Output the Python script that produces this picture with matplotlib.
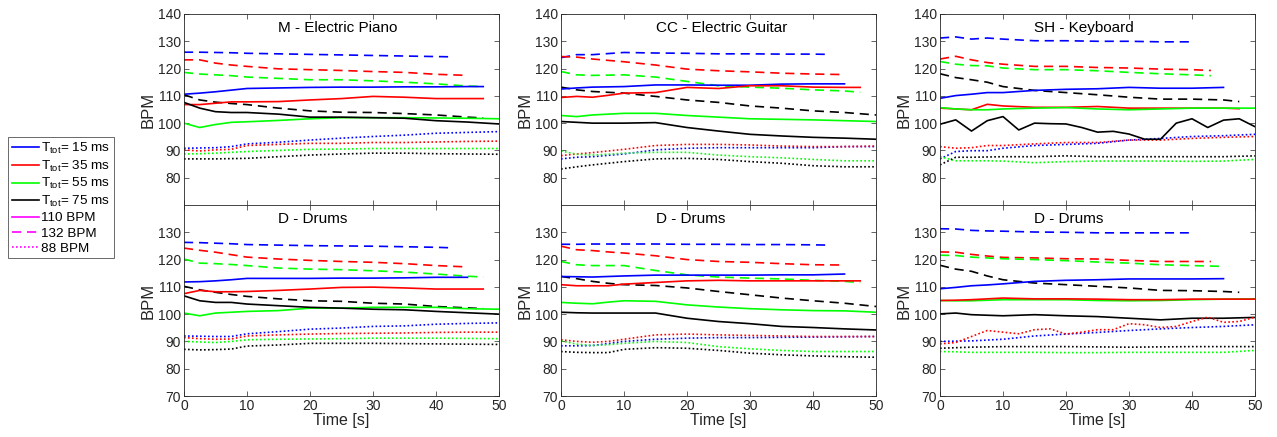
import matplotlib
matplotlib.use('Agg')
import matplotlib.pyplot as plt
from matplotlib.lines import Line2D

plt.rcParams['font.family'] = ['Liberation Sans', 'DejaVu Sans']
plt.rcParams['mathtext.fontset'] = 'custom'
plt.rcParams['mathtext.rm'] = 'Liberation Sans'

# sample times (s); each series gives values on these up to its end time, last value at the end
G = [0, 2.5, 5, 7.5, 10, 15, 20, 25, 30, 35, 40, 45, 50]
G_FINE = [0, 2.5, 5, 7.5, 10, 12.5, 15, 17.5, 20, 22.5, 25, 27.5, 30,
          32.5, 35, 37.5, 40, 42.5, 45, 47.5, 50]

titles = ['M - Electric Piano', 'CC - Electric Guitar', 'SH - Keyboard',
          'D - Drums', 'D - Drums', 'D - Drums']

# key: colour + line style  ->  (end time, BPM values)
piano_M = {
    'b--': (42.5, [126.0, 126.0, 125.9, 125.8, 125.6, 125.4, 125.2, 125.0, 124.8, 124.6, 124.4, 124.3]),
    'r--': (45, [123.2, 123.2, 122.0, 121.3, 120.8, 119.9, 119.6, 119.3, 118.9, 118.6, 117.9, 117.5]),
    'g--': (47.5, [118.6, 118.0, 117.7, 117.4, 116.9, 116.4, 115.9, 115.9, 115.5, 115.0, 114.4, 113.6, 113.4]),
    'k--': (47.5, [110.4, 108.5, 107.7, 107.2, 106.8, 105.5, 104.5, 104.0, 103.9, 103.5, 103.0, 102.2, 101.9]),
    'b-': (47.5, [110.6, 111.0, 111.5, 112.1, 112.7, 112.9, 113.1, 113.2, 113.2, 113.3, 113.3, 113.4, 113.4]),
    'r-': (47.5, [106.8, 106.8, 107.3, 107.8, 107.8, 107.9, 108.5, 109.0, 109.8, 109.5, 109.0, 109.0, 109.0]),
    'g-': (50, [100.0, 98.4, 99.5, 100.3, 100.5, 101.0, 101.6, 102.0, 102.0, 102.0, 101.9, 101.8, 101.6]),
    'k-': (50, [107.6, 105.5, 104.2, 103.9, 103.9, 103.3, 102.2, 102.2, 102.0, 101.8, 100.9, 100.4, 99.7]),
    'b:': (50, [90.8, 90.9, 91.0, 91.4, 92.4, 93.0, 93.8, 94.5, 95.1, 95.6, 96.3, 96.6, 96.9]),
    'r:': (50, [90.2, 89.8, 90.2, 90.4, 91.8, 92.2, 92.6, 92.6, 92.9, 92.9, 93.1, 93.3, 93.4]),
    'g:': (50, [88.7, 88.8, 89.0, 89.3, 89.6, 90.0, 90.4, 90.5, 90.7, 90.7, 90.7, 90.7, 90.7]),
    'k:': (50, [86.9, 86.9, 86.9, 87.0, 87.1, 87.7, 88.3, 88.7, 89.0, 89.0, 88.8, 88.7, 88.6]),
}

guitar_CC = {
    'b--': (42.5, [124.0, 125.1, 125.1, 125.5, 125.9, 125.7, 125.6, 125.4, 125.4, 125.3, 125.3, 125.2]),
    'r--': (45, [124.4, 124.2, 123.5, 123.0, 122.5, 121.3, 119.8, 119.2, 118.8, 118.3, 118.0, 117.8]),
    'g--': (47.5, [118.9, 117.7, 117.5, 117.6, 117.7, 116.9, 115.3, 113.7, 113.2, 112.8, 112.2, 111.8, 111.3]),
    'k--': (50, [113.2, 112.2, 111.6, 111.3, 111.0, 109.8, 108.5, 107.6, 106.3, 105.5, 104.5, 103.9, 103.0]),
    'b-': (45, [112.5, 112.9, 113.2, 113.3, 113.4, 114.0, 114.0, 113.9, 113.9, 114.3, 114.4, 114.4]),
    'r-': (47.5, [109.4, 109.8, 109.5, 110.2, 111.0, 111.2, 113.1, 112.7, 113.7, 113.7, 113.2, 113.1, 113.1]),
    'g-': (50, [102.8, 102.4, 103.0, 103.3, 103.6, 103.6, 102.8, 102.2, 101.6, 101.4, 101.2, 100.9, 100.6]),
    'k-': (50, [100.6, 100.3, 100.0, 100.0, 100.0, 100.2, 98.4, 97.1, 95.9, 95.3, 94.8, 94.5, 94.1]),
    'b:': (50, [86.9, 87.5, 87.7, 88.2, 88.7, 90.2, 90.8, 91.0, 91.0, 91.0, 91.0, 91.4, 91.4]),
    'r:': (50, [88.1, 88.7, 89.2, 89.8, 90.4, 91.8, 92.2, 92.2, 92.0, 91.6, 91.4, 91.4, 91.6]),
    'g:': (50, [89.8, 88.6, 88.3, 88.6, 89.0, 89.3, 89.3, 88.3, 87.7, 87.3, 86.7, 86.2, 86.2]),
    'k:': (50, [83.2, 84.0, 84.7, 85.3, 85.9, 86.9, 87.1, 86.7, 85.9, 85.3, 84.4, 84.0, 84.0]),
}

keyboard_SH = {
    'b--': (39.5, [131.2, 131.6, 130.8, 131.2, 130.8, 130.2, 130.2, 130.0, 130.0, 129.8, 129.8]),
    'r--': (43, [123.5, 124.5, 123.2, 122.2, 121.6, 120.8, 120.8, 120.4, 120.2, 119.8, 119.6, 119.3]),
    'g--': (43, [122.6, 121.6, 121.1, 121.0, 120.2, 119.6, 119.6, 119.2, 118.6, 118.1, 117.7, 117.4]),
    'k--': (47.5, [118.1, 116.7, 115.9, 115.0, 113.4, 112.0, 111.2, 110.4, 109.5, 108.8, 108.8, 108.5, 107.9]),
    'b-': (45, [109.1, 110.1, 110.6, 111.2, 111.2, 112.0, 112.4, 112.6, 113.1, 112.8, 112.8, 113.1]),
    'r-': (47.5, [105.5, 105.2, 104.9, 106.9, 106.3, 105.8, 105.8, 106.1, 105.5, 105.5, 105.5, 105.5, 105.3]),
    'g-': (50, [105.7, 105.2, 104.9, 104.9, 105.2, 105.5, 105.7, 105.2, 104.9, 105.2, 105.5, 105.5, 105.5]),
    'b:': (50, [86.9, 89.6, 89.9, 89.9, 90.8, 91.8, 92.2, 92.6, 93.8, 94.4, 95.1, 95.4, 95.9]),
    'r:': (50, [91.4, 90.8, 91.0, 91.8, 91.8, 92.4, 92.9, 92.9, 93.8, 93.8, 94.4, 94.8, 95.1]),
    'g:': (50, [87.7, 86.2, 86.2, 86.2, 86.1, 85.5, 85.9, 86.1, 86.1, 86.1, 86.0, 86.1, 86.7]),
    'k:': (50, [84.7, 87.5, 87.5, 87.6, 87.7, 87.7, 88.0, 87.7, 87.7, 87.7, 87.7, 87.7, 88.0]),
}
keyboard_SH_fine = {
    'k-': [99.6, 101.2, 97.1, 100.9, 102.4, 97.5, 100.0, 99.8, 99.7, 98.4, 96.7,
           97.0, 96.0, 94.1, 94.1, 100.0, 101.6, 98.4, 101.1, 101.6, 98.7],
}

drums_1 = {
    'b--': (42.5, [126.3, 126.2, 126.0, 125.8, 125.5, 125.3, 125.1, 125.0, 124.9, 124.7, 124.5, 124.3]),
    'r--': (45, [124.2, 123.4, 122.7, 121.8, 120.9, 120.2, 119.7, 119.3, 119.0, 118.5, 117.8, 117.3]),
    'g--': (47.5, [120.2, 118.7, 118.5, 118.2, 117.8, 116.9, 116.5, 116.3, 115.9, 115.4, 114.7, 113.9, 113.6]),
    'k--': (47.5, [110.2, 108.9, 108.0, 107.2, 106.5, 105.6, 104.9, 104.7, 104.0, 103.7, 102.8, 102.3, 102.0]),
    'b-': (45, [111.8, 111.9, 112.2, 112.6, 113.1, 113.1, 113.1, 113.2, 113.2, 113.3, 113.5, 113.5]),
    'r-': (47.5, [107.5, 108.7, 108.2, 108.2, 108.3, 108.7, 109.2, 109.8, 109.9, 109.6, 109.2, 109.2, 109.2]),
    'g-': (50, [100.4, 99.4, 100.4, 100.7, 101.0, 101.3, 102.2, 102.2, 102.5, 102.5, 102.5, 102.0, 101.8]),
    'k-': (50, [106.7, 104.9, 104.3, 104.3, 103.7, 103.1, 102.5, 102.2, 101.8, 101.6, 101.0, 100.5, 100.0]),
    'b:': (50, [92.0, 91.9, 91.8, 91.8, 92.8, 93.6, 94.5, 94.9, 95.5, 95.7, 96.3, 96.6, 96.8]),
    'r:': (50, [91.4, 91.0, 90.8, 90.9, 92.0, 92.4, 92.7, 92.9, 93.0, 93.1, 93.3, 93.4, 93.4]),
    'g:': (50, [90.0, 89.8, 89.6, 90.0, 90.6, 90.8, 90.9, 91.0, 91.2, 91.2, 91.2, 91.1, 91.0]),
    'k:': (50, [87.1, 86.9, 87.0, 87.2, 88.3, 88.7, 89.3, 89.3, 89.3, 89.2, 89.1, 89.0, 88.9]),
}

drums_2 = {
    'b--': (42.5, [125.6, 125.6, 125.7, 125.7, 125.7, 125.7, 125.6, 125.6, 125.5, 125.5, 125.4, 125.3]),
    'r--': (45, [124.9, 123.6, 123.3, 122.8, 122.4, 121.4, 120.0, 119.3, 119.0, 118.5, 118.1, 118.0]),
    'g--': (47.5, [119.3, 118.1, 117.8, 117.8, 117.8, 116.0, 114.4, 113.6, 113.2, 112.9, 112.4, 112.0, 111.6]),
    'k--': (50, [113.8, 113.0, 112.0, 111.3, 110.8, 110.5, 109.6, 108.3, 107.1, 105.9, 104.9, 104.0, 102.8]),
    'b-': (45, [113.8, 113.7, 113.6, 113.8, 114.0, 114.3, 114.3, 114.3, 114.3, 114.4, 114.4, 114.7]),
    'r-': (47.5, [110.8, 110.4, 110.4, 110.4, 111.0, 111.6, 112.2, 112.4, 112.2, 112.2, 112.2, 112.2, 112.2]),
    'g-': (50, [104.3, 104.0, 103.8, 104.4, 104.9, 104.7, 103.4, 102.6, 102.0, 101.6, 101.3, 101.2, 100.7]),
    'k-': (50, [100.7, 100.5, 100.4, 100.4, 100.4, 100.4, 98.5, 97.3, 96.5, 95.5, 95.1, 94.6, 94.2]),
    'b:': (50, [88.4, 88.4, 88.5, 89.2, 90.0, 90.8, 91.2, 91.4, 91.4, 91.5, 91.6, 91.7, 91.8]),
    'r:': (50, [90.6, 90.0, 89.7, 90.0, 90.8, 92.4, 92.7, 92.4, 92.2, 92.0, 91.8, 91.8, 91.8]),
    'g:': (50, [90.2, 89.0, 88.5, 88.8, 89.3, 90.0, 89.6, 88.1, 87.3, 86.7, 86.3, 86.3, 86.3]),
    'k:': (50, [86.3, 86.0, 85.9, 85.9, 87.1, 87.7, 87.5, 86.7, 85.7, 85.1, 84.7, 84.4, 84.2]),
}

drums_3 = {
    'b--': (39.5, [131.3, 131.2, 130.7, 130.5, 130.4, 130.1, 130.0, 129.8, 129.8, 129.8, 129.8]),
    'r--': (43, [122.8, 122.7, 121.9, 121.3, 120.8, 120.6, 120.3, 120.2, 119.7, 119.3, 119.3, 119.3]),
    'g--': (45, [121.6, 121.5, 120.9, 120.6, 120.3, 120.0, 119.6, 119.1, 118.7, 118.1, 117.8, 117.5]),
    'k--': (47.5, [117.9, 116.5, 115.7, 114.0, 112.6, 111.4, 110.8, 110.2, 109.6, 108.7, 108.6, 108.3, 108.0]),
    'b-': (45, [109.3, 109.8, 110.4, 110.7, 111.1, 112.0, 112.4, 112.6, 112.9, 112.9, 112.9, 113.0]),
    'g-': (50, [105.0, 104.9, 104.9, 105.1, 105.3, 105.3, 105.3, 105.0, 104.9, 105.0, 105.3, 105.5, 105.6]),
    'r-': (50, [105.0, 105.1, 105.3, 105.6, 105.9, 105.6, 105.6, 105.5, 105.3, 105.3, 105.5, 105.5, 105.5]),
    'k-': (50, [100.1, 100.4, 99.8, 99.6, 99.4, 99.8, 99.4, 99.1, 98.5, 97.9, 98.5, 98.5, 98.8]),
    'b:': (50, [90.0, 90.1, 90.2, 90.5, 90.8, 92.0, 92.7, 93.3, 94.0, 94.6, 95.1, 95.5, 96.1]),
    'g:': (50, [86.3, 86.2, 86.0, 86.0, 86.0, 86.0, 85.9, 85.9, 86.0, 86.0, 86.0, 86.0, 86.7]),
    'k:': (50, [87.5, 87.7, 87.9, 88.0, 88.1, 88.1, 88.1, 88.0, 87.9, 88.0, 88.1, 88.1, 88.1]),
}
drums_3_fine = {
    'r:': [89.1, 89.6, 91.8, 94.0, 93.4, 92.8, 94.3, 94.6, 92.7, 93.4, 94.3,
           94.3, 96.5, 96.1, 95.1, 95.5, 97.3, 98.9, 97.0, 97.3, 98.9],
}

panels = [(piano_M, {}), (guitar_CC, {}), (keyboard_SH, keyboard_SH_fine),
          (drums_1, {}), (drums_2, {}), (drums_3, drums_3_fine)]

legend_labels = [r'T$_{\rm tot}$= 15 ms', r'T$_{\rm tot}$= 35 ms',
                 r'T$_{\rm tot}$= 55 ms', r'T$_{\rm tot}$= 75 ms',
                 '110 BPM', '132 BPM', '88 BPM']

COLORS = {'b': (0, 0, 1), 'r': (1, 0, 0), 'g': (0, 1, 0), 'k': (0, 0, 0)}
DASHES = {'-': None, '--': (5.5, 3.5), ':': (1, 1.4)}
AXC = '0.15'


def draw_series(ax, key, xs, ys):
    c = COLORS[key[0]]
    ls = key[1:]
    line, = ax.plot(xs, ys, color=c, lw=1.2)
    if DASHES[ls] is not None:
        line.set_dashes(DASHES[ls])


fig = plt.figure(figsize=(12.77, 4.37), dpi=100)
lefts = [184 / 1277, 561 / 1277, 940 / 1277]
w = 315 / 1277
top_y = 1 - 205 / 437
bot_y = 1 - 396 / 437
h = top_y - bot_y

for i, (series, fine) in enumerate(panels):
    row, col = divmod(i, 3)
    ax = fig.add_axes([lefts[col], top_y if row == 0 else bot_y, w, h])
    for key, (end, vals) in series.items():
        xs = [t for t in G if t < end] + [end]
        draw_series(ax, key, xs, vals)
    for key, vals in fine.items():
        draw_series(ax, key, G_FINE, vals)
    ax.set_xlim(0, 50)
    ax.set_ylim(70, 140)
    ax.set_xticks([0, 10, 20, 30, 40, 50])
    if row == 0:
        ax.set_yticks([80, 90, 100, 110, 120, 130, 140])
        ax.tick_params(labelbottom=False)
    else:
        ax.set_yticks([70, 80, 90, 100, 110, 120, 130])
        ax.set_xlabel('Time [s]', fontsize=11.5, color=AXC, labelpad=0)
    ax.set_ylabel('BPM', fontsize=12, color=AXC, labelpad=2)
    ax.tick_params(direction='in', top=True, right=True, length=3.5, width=0.5,
                   color=AXC, labelcolor=AXC, labelsize=10, pad=2)
    for sp in ax.spines.values():
        sp.set_color(AXC)
        sp.set_linewidth(0.6)
    ax.text(0.30, 0.928, titles[i], transform=ax.transAxes, ha='left',
            va='center', fontsize=11, color='k')

handles = [Line2D([], [], color=COLORS[c], lw=1.2) for c in 'brgk']
for ls in ['-', '--', ':']:
    hl = Line2D([], [], color=(1, 0, 1), lw=1.2)
    if DASHES[ls] is not None:
        hl.set_dashes(DASHES[ls])
    handles.append(hl)

leg = fig.legend(handles, legend_labels, loc='upper left',
                 bbox_to_anchor=(8 / 1277, 1 - 137 / 437), fontsize=9.7,
                 frameon=True, fancybox=False, handlelength=2.0,
                 handletextpad=0.15, labelspacing=0.2, borderpad=0.28,
                 borderaxespad=0)
leg.get_frame().set_edgecolor(AXC)
leg.get_frame().set_linewidth(0.6)

fig.savefig('out.png', dpi=100)
